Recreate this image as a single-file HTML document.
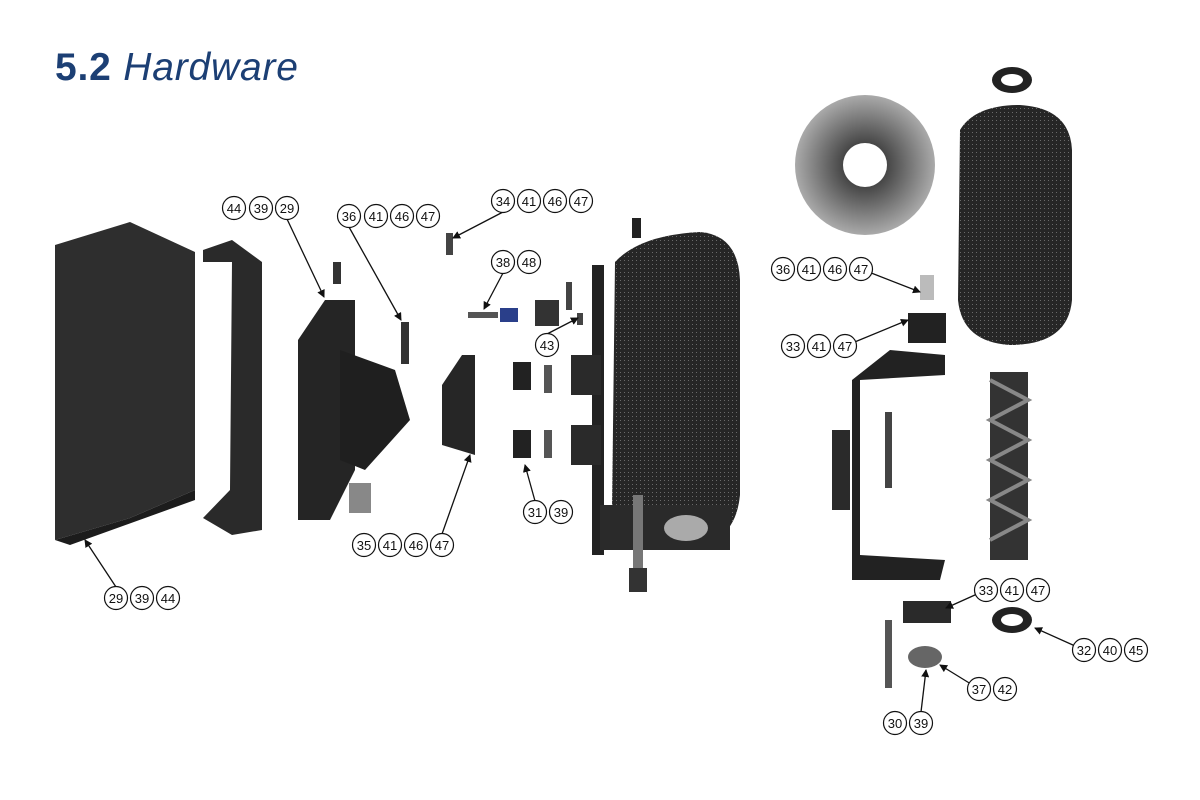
<!DOCTYPE html>
<html><head><meta charset="utf-8"><style>
html,body{margin:0;padding:0;background:#fff;width:1200px;height:800px;overflow:hidden}
svg{display:block}
.t{font-family:"Liberation Sans",sans-serif;font-size:13px;fill:#111;text-anchor:middle}
</style></head><body>
<svg width="1200" height="800" viewBox="0 0 1200 800" xmlns="http://www.w3.org/2000/svg">
<defs>
<pattern id="br" width="4" height="4" patternUnits="userSpaceOnUse">
<rect width="4" height="4" fill="#262626"/><rect width="1" height="1" fill="#6a6a6a"/>
</pattern>
<radialGradient id="disc" cx="50%" cy="50%" r="50%">
<stop offset="0.3" stop-color="#444"/><stop offset="1" stop-color="#aaa"/>
</radialGradient>
<marker id="ah" markerWidth="8" markerHeight="8" refX="7" refY="4" orient="auto" markerUnits="userSpaceOnUse">
<path d="M0,0 L8,4 L0,8 Z" fill="#111"/>
</marker>
</defs>
<text x="55" y="80" font-family="Liberation Sans,sans-serif" font-size="39" fill="#1c3f74" letter-spacing="0.8"><tspan font-weight="bold">5.2</tspan> <tspan font-style="italic">Hardware</tspan></text>

<!-- hood -->
<polygon points="55,245 130,222 195,252 195,490 130,518 55,540" fill="#2e2e2e"/>
<polygon points="55,540 130,518 195,490 195,500 70,545" fill="#1c1c1c"/>
<!-- panel -->
<polygon points="203,250 232,240 262,262 262,530 232,535 203,518 230,490 232,262 203,262" fill="#2a2a2a"/>
<!-- mid bracket -->
<polygon points="298,340 325,300 355,300 355,470 330,520 298,520" fill="#252525"/>
<polygon points="340,350 395,370 410,420 365,470 340,460" fill="#1f1f1f"/>
<rect x="333" y="262" width="8" height="22" fill="#333"/>
<rect x="401" y="322" width="8" height="42" fill="#333"/>
<rect x="349" y="483" width="22" height="30" fill="#888"/>
<polygon points="442,385 462,355 475,355 475,455 442,445" fill="#262626"/>
<rect x="446" y="233" width="7" height="22" fill="#444"/>
<rect x="468" y="312" width="30" height="6" fill="#555"/>
<rect x="500" y="308" width="18" height="14" fill="#2a3f8a"/>
<rect x="535" y="300" width="24" height="26" fill="#333"/>
<rect x="566" y="282" width="6" height="28" fill="#444"/>
<rect x="577" y="313" width="6" height="12" fill="#444"/>
<rect x="513" y="362" width="18" height="28" fill="#222"/>
<rect x="513" y="430" width="18" height="28" fill="#222"/>
<rect x="544" y="365" width="8" height="28" fill="#555"/>
<rect x="544" y="430" width="8" height="28" fill="#555"/>
<!-- main brush frame -->
<rect x="592" y="265" width="12" height="290" fill="#222"/>
<rect x="571" y="355" width="30" height="40" fill="#2a2a2a"/>
<rect x="571" y="425" width="30" height="40" fill="#2a2a2a"/>
<rect x="632" y="218" width="9" height="20" fill="#222"/>
<!-- main brush -->
<path d="M615,262 Q640,235 700,232 Q738,235 740,280 L740,495 Q735,548 680,548 Q620,545 612,510 Z" fill="url(#br)"/>
<rect x="600" y="505" width="130" height="45" fill="#2a2a2a"/>
<ellipse cx="686" cy="528" rx="22" ry="13" fill="#aaa"/>
<rect x="633" y="495" width="10" height="75" fill="#777"/>
<rect x="629" y="568" width="18" height="24" fill="#333"/>
<!-- right side -->
<circle cx="865" cy="165" r="70" fill="url(#disc)"/>
<circle cx="865" cy="165" r="22" fill="#fff"/>
<ellipse cx="1012" cy="80" rx="20" ry="13" fill="#222"/><ellipse cx="1012" cy="80" rx="11" ry="6" fill="#fff"/>
<path d="M960,130 Q975,105 1020,105 Q1070,108 1072,150 L1072,300 Q1068,345 1010,345 Q962,342 958,300 Z" fill="url(#br)"/>
<polygon points="990,372 1028,372 1028,560 990,560" fill="#333"/>
<polyline points="990,380 1028,400 990,420 1028,440 990,460 1028,480 990,500 1028,520 990,540" fill="none" stroke="#888" stroke-width="4"/>
<rect x="920" y="275" width="14" height="25" fill="#bbb"/>
<rect x="908" y="313" width="38" height="30" fill="#222"/>
<path d="M852,380 L852,580 L940,580 L945,560 L860,555 L860,380 L945,375 L945,355 L890,350 Z" fill="#222"/>
<rect x="832" y="430" width="18" height="80" fill="#2a2a2a"/>
<rect x="885" y="412" width="7" height="76" fill="#444"/>
<rect x="903" y="601" width="48" height="22" fill="#2a2a2a"/>
<rect x="885" y="620" width="7" height="68" fill="#555"/>
<ellipse cx="925" cy="657" rx="17" ry="11" fill="#666"/>
<ellipse cx="1012" cy="620" rx="20" ry="13" fill="#222"/><ellipse cx="1012" cy="620" rx="11" ry="6" fill="#fff"/>

<!-- leaders -->
<g stroke="#111" stroke-width="1.3" fill="none" marker-end="url(#ah)">
<line x1="287" y1="219" x2="324" y2="297"/>
<line x1="349" y1="227" x2="401" y2="320"/>
<line x1="503" y1="212" x2="453" y2="238"/>
<line x1="503" y1="273" x2="484" y2="309"/>
<line x1="547" y1="334" x2="578" y2="318"/>
<line x1="535" y1="501" x2="525" y2="465"/>
<line x1="442" y1="534" x2="470" y2="455"/>
<line x1="116" y1="587" x2="85" y2="540"/>
<line x1="861" y1="269" x2="920" y2="292"/>
<line x1="845" y1="346" x2="908" y2="320"/>
<line x1="986" y1="590" x2="946" y2="608"/>
<line x1="1084" y1="650" x2="1035" y2="628"/>
<line x1="979" y1="689" x2="940" y2="665"/>
<line x1="921" y1="712" x2="926" y2="670"/>
</g>

<g fill="#fff" stroke="#111" stroke-width="1.2">
<circle cx="234" cy="208" r="11.5"/><circle cx="261" cy="208" r="11.5"/><circle cx="287" cy="208" r="11.5"/>
<circle cx="349" cy="216" r="11.5"/><circle cx="376" cy="216" r="11.5"/><circle cx="402" cy="216" r="11.5"/><circle cx="428" cy="216" r="11.5"/>
<circle cx="503" cy="201" r="11.5"/><circle cx="529" cy="201" r="11.5"/><circle cx="555" cy="201" r="11.5"/><circle cx="581" cy="201" r="11.5"/>
<circle cx="503" cy="262" r="11.5"/><circle cx="529" cy="262" r="11.5"/>
<circle cx="547" cy="345" r="11.5"/>
<circle cx="535" cy="512" r="11.5"/><circle cx="561" cy="512" r="11.5"/>
<circle cx="364" cy="545" r="11.5"/><circle cx="390" cy="545" r="11.5"/><circle cx="416" cy="545" r="11.5"/><circle cx="442" cy="545" r="11.5"/>
<circle cx="116" cy="598" r="11.5"/><circle cx="142" cy="598" r="11.5"/><circle cx="168" cy="598" r="11.5"/>
<circle cx="783" cy="269" r="11.5"/><circle cx="809" cy="269" r="11.5"/><circle cx="835" cy="269" r="11.5"/><circle cx="861" cy="269" r="11.5"/>
<circle cx="793" cy="346" r="11.5"/><circle cx="819" cy="346" r="11.5"/><circle cx="845" cy="346" r="11.5"/>
<circle cx="986" cy="590" r="11.5"/><circle cx="1012" cy="590" r="11.5"/><circle cx="1038" cy="590" r="11.5"/>
<circle cx="1084" cy="650" r="11.5"/><circle cx="1110" cy="650" r="11.5"/><circle cx="1136" cy="650" r="11.5"/>
<circle cx="979" cy="689" r="11.5"/><circle cx="1005" cy="689" r="11.5"/>
<circle cx="895" cy="723" r="11.5"/><circle cx="921" cy="723" r="11.5"/>
</g>
<g class="t">
<text x="234" y="213">44</text><text x="261" y="213">39</text><text x="287" y="213">29</text>
<text x="349" y="221">36</text><text x="376" y="221">41</text><text x="402" y="221">46</text><text x="428" y="221">47</text>
<text x="503" y="206">34</text><text x="529" y="206">41</text><text x="555" y="206">46</text><text x="581" y="206">47</text>
<text x="503" y="267">38</text><text x="529" y="267">48</text>
<text x="547" y="350">43</text>
<text x="535" y="517">31</text><text x="561" y="517">39</text>
<text x="364" y="550">35</text><text x="390" y="550">41</text><text x="416" y="550">46</text><text x="442" y="550">47</text>
<text x="116" y="603">29</text><text x="142" y="603">39</text><text x="168" y="603">44</text>
<text x="783" y="274">36</text><text x="809" y="274">41</text><text x="835" y="274">46</text><text x="861" y="274">47</text>
<text x="793" y="351">33</text><text x="819" y="351">41</text><text x="845" y="351">47</text>
<text x="986" y="595">33</text><text x="1012" y="595">41</text><text x="1038" y="595">47</text>
<text x="1084" y="655">32</text><text x="1110" y="655">40</text><text x="1136" y="655">45</text>
<text x="979" y="694">37</text><text x="1005" y="694">42</text>
<text x="895" y="728">30</text><text x="921" y="728">39</text>
</g>
</svg>
</body></html>
